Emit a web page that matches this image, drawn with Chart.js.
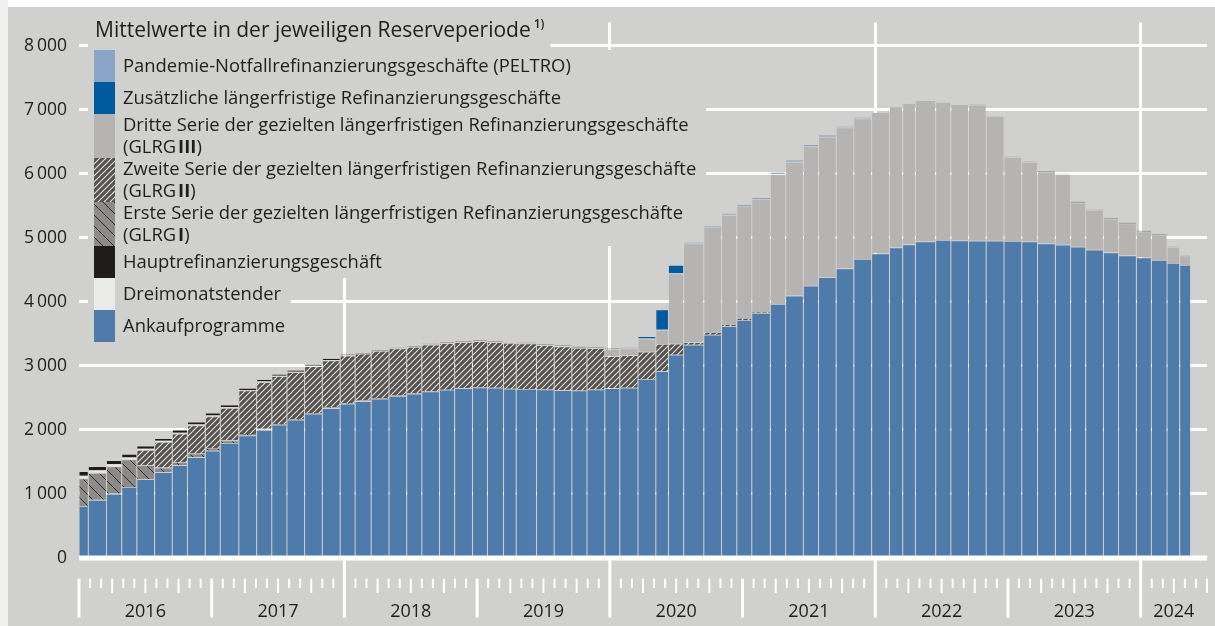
<!DOCTYPE html>
<html lang="de">
<head>
<meta charset="UTF-8">
<title>Refinanzierungsgeschäfte und Ankaufprogramme</title>
<script src="https://cdn.jsdelivr.net/npm/chart.js"></script>
<style>
  html, body { margin: 0; padding: 0; background: #fff; overflow: hidden; }
  #wrap { position: relative; width: 1215px; height: 626px; }
</style>
</head>
<body>
<div id="wrap"><canvas id="chart"></canvas></div>
<script>
// Ende der Reserveperioden (erste ab 1.1.2016 angeschnitten, letzte laufend)
const periodEnds = [
  '2016-01-26','2016-03-15','2016-04-26','2016-06-07','2016-07-26','2016-09-13','2016-10-25','2016-12-13',
  '2017-01-24','2017-03-14','2017-05-02','2017-06-13','2017-07-25','2017-09-12','2017-10-31','2017-12-19',
  '2018-01-30','2018-03-13','2018-05-01','2018-06-19','2018-07-31','2018-09-18','2018-10-30','2018-12-18',
  '2019-01-29','2019-03-12','2019-04-16','2019-06-11','2019-07-30','2019-09-17','2019-10-29','2019-12-17',
  '2020-01-28','2020-03-17','2020-05-05','2020-06-09','2020-07-21','2020-09-15','2020-11-03','2020-12-15',
  '2021-01-26','2021-03-16','2021-04-27','2021-06-15','2021-07-27','2021-09-14','2021-11-02','2021-12-21',
  '2022-02-08','2022-03-15','2022-04-19','2022-06-14','2022-07-26','2022-09-13','2022-11-01','2022-12-20',
  '2023-02-07','2023-03-21','2023-05-09','2023-06-20','2023-08-01','2023-09-19','2023-10-31','2023-12-19',
  '2024-01-30','2024-03-12','2024-04-16','2024-05-16'
];

// Mrd Euro, Mittelwerte je Reserveperiode
const ankauf = [
  808, 902, 998, 1104, 1224, 1336, 1442, 1570,
  1669, 1790, 1907, 2000, 2077, 2155, 2249, 2336,
  2404, 2445, 2482, 2524, 2561, 2596, 2623, 2648,
  2659, 2654, 2638, 2633, 2628, 2617, 2612, 2628,
  2648, 2654, 2790, 2913, 3169, 3325, 3481, 3615,
  3714, 3824, 3964, 4093, 4249, 4379, 4519, 4666,
  4753, 4847, 4894, 4940, 4962, 4956, 4951, 4951,
  4946, 4940, 4909, 4889, 4858, 4811, 4769, 4722,
  4691, 4650, 4603, 4572
];
const glrg1 = [
  427, 422, 425, 430, 218, 70, 52, 56,
  36, 42, 25, 15, 12, 12, 12, 12,
  12, 10, 10, 10, 8, 5, 0, 0,
  0, 0, 0, 0, 0, 0, 0, 0,
  0, 0, 0, 0, 0, 0, 0, 0,
  0, 0, 0, 0, 0, 0, 0, 0,
  0, 0, 0, 0, 0, 0, 0, 0,
  0, 0, 0, 0, 0, 0, 0, 0,
  0, 0, 0, 0
];
const glrg2 = [
  0, 0, 0, 0, 240, 400, 443, 440,
  502, 505, 680, 727, 745, 730, 730, 732,
  740, 730, 735, 732, 722, 727, 725, 716,
  721, 710, 716, 711, 689, 680, 663, 642,
  500, 508, 425, 425, 172, 40, 31, 22,
  20, 15, 0, 0, 0, 0, 0, 0,
  0, 0, 0, 0, 0, 0, 0, 0,
  0, 0, 0, 0, 0, 0, 0, 0,
  0, 0, 0, 0
];
const glrg3 = [
  0, 0, 0, 0, 0, 0, 0, 0,
  0, 0, 0, 0, 0, 0, 0, 0,
  0, 0, 0, 0, 0, 0, 0, 0,
  0, 0, 0, 0, 0, 3, 3, 3,
  110, 105, 205, 218, 1100, 1542, 1656, 1718,
  1756, 1760, 2026, 2090, 2173, 2195, 2200, 2196,
  2205, 2203, 2205, 2208, 2157, 2127, 2126, 1945,
  1312, 1240, 1125, 1102, 688, 616, 518, 498,
  404, 396, 250, 150
];
const dreimonat = [
  45, 40, 35, 30, 18, 18, 15, 14,
  13, 12, 8, 8, 6, 6, 6, 6,
  6, 5, 5, 5, 5, 5, 5, 5,
  5, 5, 5, 5, 5, 5, 5, 5,
  4, 4, 2, 2, 1, 1, 1, 1,
  1, 1, 0, 0, 0, 0, 0, 0,
  0, 0, 0, 0, 0, 0, 0, 0,
  0, 0, 0, 0, 0, 0, 0, 0,
  0, 0, 0, 0
];
const hrg = [
  70, 63, 62, 55, 47, 42, 45, 44,
  44, 30, 22, 28, 22, 20, 20, 20,
  12, 8, 8, 7, 7, 7, 7, 7,
  7, 7, 7, 7, 7, 9, 10, 10,
  10, 7, 3, 2, 1, 1, 1, 1,
  1, 1, 1, 1, 1, 1, 0, 0,
  0, 0, 0, 0, 0, 0, 6, 4,
  3, 3, 4, 5, 13, 8, 12, 12,
  12, 10, 5, 6
];
const zusLrg = [
  0, 0, 0, 0, 0, 0, 0, 0,
  0, 0, 0, 0, 0, 0, 0, 0,
  0, 0, 0, 0, 0, 0, 0, 0,
  0, 0, 0, 0, 0, 0, 0, 0,
  0, 0, 20, 317, 130, 0, 0, 0,
  0, 0, 0, 0, 0, 0, 0, 0,
  0, 0, 0, 0, 0, 0, 0, 0,
  0, 0, 0, 0, 0, 0, 0, 0,
  0, 0, 0, 0
];
const peltro = [
  0, 0, 0, 0, 0, 0, 0, 0,
  0, 0, 0, 0, 0, 0, 0, 0,
  0, 0, 0, 0, 0, 0, 0, 0,
  0, 0, 0, 0, 0, 0, 0, 0,
  0, 0, 0, 0, 0, 15, 15, 20,
  20, 20, 25, 25, 25, 25, 15, 12,
  8, 6, 4, 2, 0, 0, 0, 0,
  0, 0, 0, 0, 0, 0, 0, 0,
  0, 0, 0, 0
];

// Reihenfolge von unten nach oben im Stapel
const seriesNames = [
  'Ankaufprogramme',
  'Erste Serie der gezielten längerfristigen Refinanzierungsgeschäfte',
  'Zweite Serie der gezielten längerfristigen Refinanzierungsgeschäfte',
  'Dritte Serie der gezielten längerfristigen Refinanzierungsgeschäfte',
  'Dreimonatstender',
  'Hauptrefinanzierungsgeschäft',
  'Zusätzliche längerfristige Refinanzierungsgeschäfte',
  'Pandemie-Notfallrefinanzierungsgeschäfte (PELTRO)'
];
const seriesNumerals = ['', 'I', 'II', 'III', '', '', '', ''];
const seriesValues = [ankauf, glrg1, glrg2, glrg3, dreimonat, hrg, zusLrg, peltro];
// Legende von oben nach unten (Indizes in seriesNames)
const legendOrder = [7, 6, 3, 2, 1, 5, 4, 0];

const yTicks = [0, 1000, 2000, 3000, 4000, 5000, 6000, 7000, 8000];
const title = 'Mittelwerte in der jeweiligen Reserveperiode';

const BG = '#d0d0ce';
const FONT = "'Open Sans', sans-serif";
const TEXT = '#1e1e1e';

// Monate seit Jan 2016, jeweils Tagesende
function monthPos(iso) {
  const [y, m, d] = iso.split('-').map(Number);
  const dim = new Date(Date.UTC(y, m, 0)).getUTCDate();
  return (y - 2016) * 12 + (m - 1) + d / dim;
}
const periodEnd = periodEnds.map(monthPos);
const periodStart = periodEnd.map((e, i) => i === 0 ? 0 : periodEnd[i - 1]);
const periodMid = periodEnd.map((e, i) => (periodStart[i] + e) / 2);

const canvas = document.getElementById('chart');
const ctx = canvas.getContext('2d');

function hatch(base, line, size, dir, lw) {
  const c = document.createElement('canvas');
  c.width = c.height = size;
  const g = c.getContext('2d');
  g.fillStyle = base;
  g.fillRect(0, 0, size, size);
  g.strokeStyle = line;
  g.lineWidth = lw;
  g.beginPath();
  if (dir > 0) {
    g.moveTo(-1, size + 1); g.lineTo(size + 1, -1);
    g.moveTo(-1, 1); g.lineTo(1, -1);
    g.moveTo(size - 1, size + 1); g.lineTo(size + 1, size - 1);
  } else {
    g.moveTo(-1, -1); g.lineTo(size + 1, size + 1);
    g.moveTo(size - 1, -1); g.lineTo(size + 1, 1);
    g.moveTo(-1, size - 1); g.lineTo(1, size + 1);
  }
  g.stroke();
  return ctx.createPattern(c, 'repeat');
}

const fills = [
  '#4e7ba9',
  hatch('#8c8b89', '#2f2d2b', 11, -1, 1),
  hatch('#55524f', '#e4e4e2', 6, 1, 1.1),
  '#b5b4b2',
  '#ebebea',
  '#1f1c1a',
  '#005b9e',
  '#8aa5c8'
];

const datasets = seriesValues.map((vals, k) => ({
  label: seriesNames[k] + (seriesNumerals[k] ? ' (GLRG ' + seriesNumerals[k] + ')' : ''),
  legendName: seriesNames[k],
  numeral: seriesNumerals[k],
  data: vals.map((v, i) => ({ x: periodMid[i], y: v })),
  backgroundColor: fills[k],
  borderColor: 'rgba(0,0,0,0)',
  borderWidth: c => ({ left: 0.5, right: 0.5, top: (c.raw && c.raw.y >= 40) ? 0.8 : 0, bottom: 0 }),
  inflateAmount: 0,
  barPercentage: 1,
  categoryPercentage: 1
}));

// Balkenbreite = Länge der Reserveperiode
const periodBars = {
  id: 'periodBars',
  afterDatasetsUpdate(chart) {
    const xs = chart.scales.x;
    chart.data.datasets.forEach((ds, di) => {
      chart.getDatasetMeta(di).data.forEach((bar, i) => {
        const l = xs.getPixelForValue(periodStart[i]);
        const r = xs.getPixelForValue(periodEnd[i]);
        bar.x = (l + r) / 2;
        bar.width = r - l;
      });
    });
  }
};

const background = {
  id: 'background',
  beforeDraw(chart) {
    const { ctx, width, height } = chart;
    ctx.save();
    ctx.fillStyle = '#ffffff';
    ctx.fillRect(0, 0, width, height);
    ctx.fillStyle = '#f0f0f0';
    ctx.fillRect(0, 0, 8, height);
    ctx.fillStyle = BG;
    ctx.fillRect(8, 7, width - 8, height - 7);
    ctx.restore();
  }
};

const LEG_SIZE = 18.4;
const TITLE_SIZE = 21;

const boxLegend = {
  id: 'boxLegend',
  beforeDatasetsDraw(chart) {
    const ctx = chart.ctx;
    const reg = LEG_SIZE + 'px ' + FONT;
    const bold = 'bold ' + LEG_SIZE + 'px ' + FONT;
    const sets = legendOrder.map(k => chart.data.datasets[k]);
    ctx.save();
    let y = 50;
    ctx.font = reg;
    const rows = sets.map(ds => {
      const h = ds.numeral ? 44 : 32;
      const r = { ds, top: y, h, w: ctx.measureText(ds.legendName).width };
      y += h;
      return r;
    });
    const wide = Math.max(...rows.slice(0, 5).map(r => r.w));

    // Titel
    ctx.font = TITLE_SIZE + 'px ' + FONT;
    const tw = ctx.measureText(title).width;
    ctx.font = '600 12px ' + FONT;
    const sw = ctx.measureText('1)').width;
    ctx.fillStyle = BG;
    ctx.fillRect(88, 18, 95 + tw + 3 + sw + 6 - 88, 32);
    rows.forEach((r, i) => {
      const w = i < 5 ? wide : r.w;
      ctx.fillRect(88, r.top, 123 + w + 10 - 88, r.h);
    });

    ctx.fillStyle = TEXT;
    ctx.textBaseline = 'middle';
    ctx.textAlign = 'left';
    ctx.font = TITLE_SIZE + 'px ' + FONT;
    ctx.fillText(title, 95, 31);
    ctx.font = '600 12px ' + FONT;
    ctx.fillText('1)', 95 + tw + 3, 25);

    rows.forEach(r => {
      ctx.fillStyle = r.ds.backgroundColor;
      ctx.fillRect(94, r.top, 21, r.h);
      ctx.fillStyle = TEXT;
      ctx.font = reg;
      const cy = r.top + r.h / 2;
      if (r.ds.numeral) {
        ctx.fillText(r.ds.legendName, 123, cy - 10);
        let x = 123;
        ctx.fillText('(GLRG', x, cy + 12);
        x += ctx.measureText('(GLRG').width + 2;
        ctx.font = bold;
        ctx.fillText(r.ds.numeral, x, cy + 12);
        x += ctx.measureText(r.ds.numeral).width;
        ctx.font = reg;
        ctx.fillText(')', x, cy + 12);
      } else {
        ctx.fillText(r.ds.legendName, 123, cy + 1);
      }
    });
    ctx.restore();
  }
};

// Nulllinie und Monats-/Quartals-/Jahresstriche
const timeAxis = {
  id: 'timeAxis',
  afterDatasetsDraw(chart) {
    const { ctx, chartArea } = chart;
    const xs = chart.scales.x, ys = chart.scales.y;
    const y0 = ys.getPixelForValue(0);
    ctx.save();
    ctx.strokeStyle = '#ffffff';
    ctx.lineWidth = 5;
    ctx.beginPath();
    ctx.moveTo(chartArea.left, y0 + 0.5);
    ctx.lineTo(chartArea.right, y0 + 0.5);
    ctx.stroke();
    for (let m = 0; m <= 102; m++) {
      const x = xs.getPixelForValue(m);
      let top = y0 + 21, bottom, lw = 2;
      if (m % 12 === 0) {
        bottom = y0 + 60; lw = 3;
        if (m % 24 === 0 && m > 0) top = y0;
      } else if (m % 3 === 0) {
        bottom = y0 + 35.5;
      } else {
        bottom = y0 + 30.5;
      }
      ctx.lineWidth = lw;
      ctx.beginPath();
      ctx.moveTo(x, top);
      ctx.lineTo(x, bottom);
      ctx.stroke();
    }
    ctx.restore();
  }
};

Chart.defaults.font.family = FONT;
Chart.defaults.color = TEXT;

new Chart(ctx, {
  type: 'bar',
  data: { datasets },
  options: {
    responsive: true,
    maintainAspectRatio: false,
    animation: false,
    events: [],
    layout: { padding: { top: 20, right: 8, left: 0, bottom: 0 } },
    plugins: { legend: { display: false }, tooltip: { enabled: false } },
    scales: {
      x: {
        type: 'linear',
        stacked: true,
        offset: false,
        min: 0,
        max: 102,
        afterBuildTicks: s => { s.ticks = Array.from({ length: 103 }, (_, m) => ({ value: m })); },
        afterFit: s => { s.height = 68.4; s.paddingLeft = 0; s.paddingRight = 0; },
        border: { display: false },
        grid: {
          offset: false,
          color: c => (c.tick && c.tick.value % 24 === 0 && c.tick.value > 0 && c.tick.value < 102) ? '#ffffff' : 'rgba(0,0,0,0)',
          lineWidth: 3,
          drawTicks: false
        },
        ticks: {
          autoSkip: false,
          maxRotation: 0,
          padding: 43,
          font: { size: 18 },
          color: TEXT,
          callback: v => (v % 12 === 6 && v < 96) ? String(2016 + (v - 6) / 12) : (v === 99 ? '2024' : '')
        }
      },
      y: {
        stacked: true,
        min: 0,
        max: 8360,
        afterBuildTicks: s => { s.ticks = yTicks.map(v => ({ value: v })); },
        afterFit: s => { s.width = 79; },
        border: { display: false },
        grid: { color: '#ffffff', lineWidth: 3, drawTicks: false },
        ticks: {
          padding: 12,
          font: { size: 17.5 },
          color: TEXT,
          callback: v => v === 0 ? '0' : (v / 1000) + '\u2009000'
        }
      }
    }
  },
  plugins: [background, periodBars, boxLegend, timeAxis]
});
</script>
</body>
</html>
